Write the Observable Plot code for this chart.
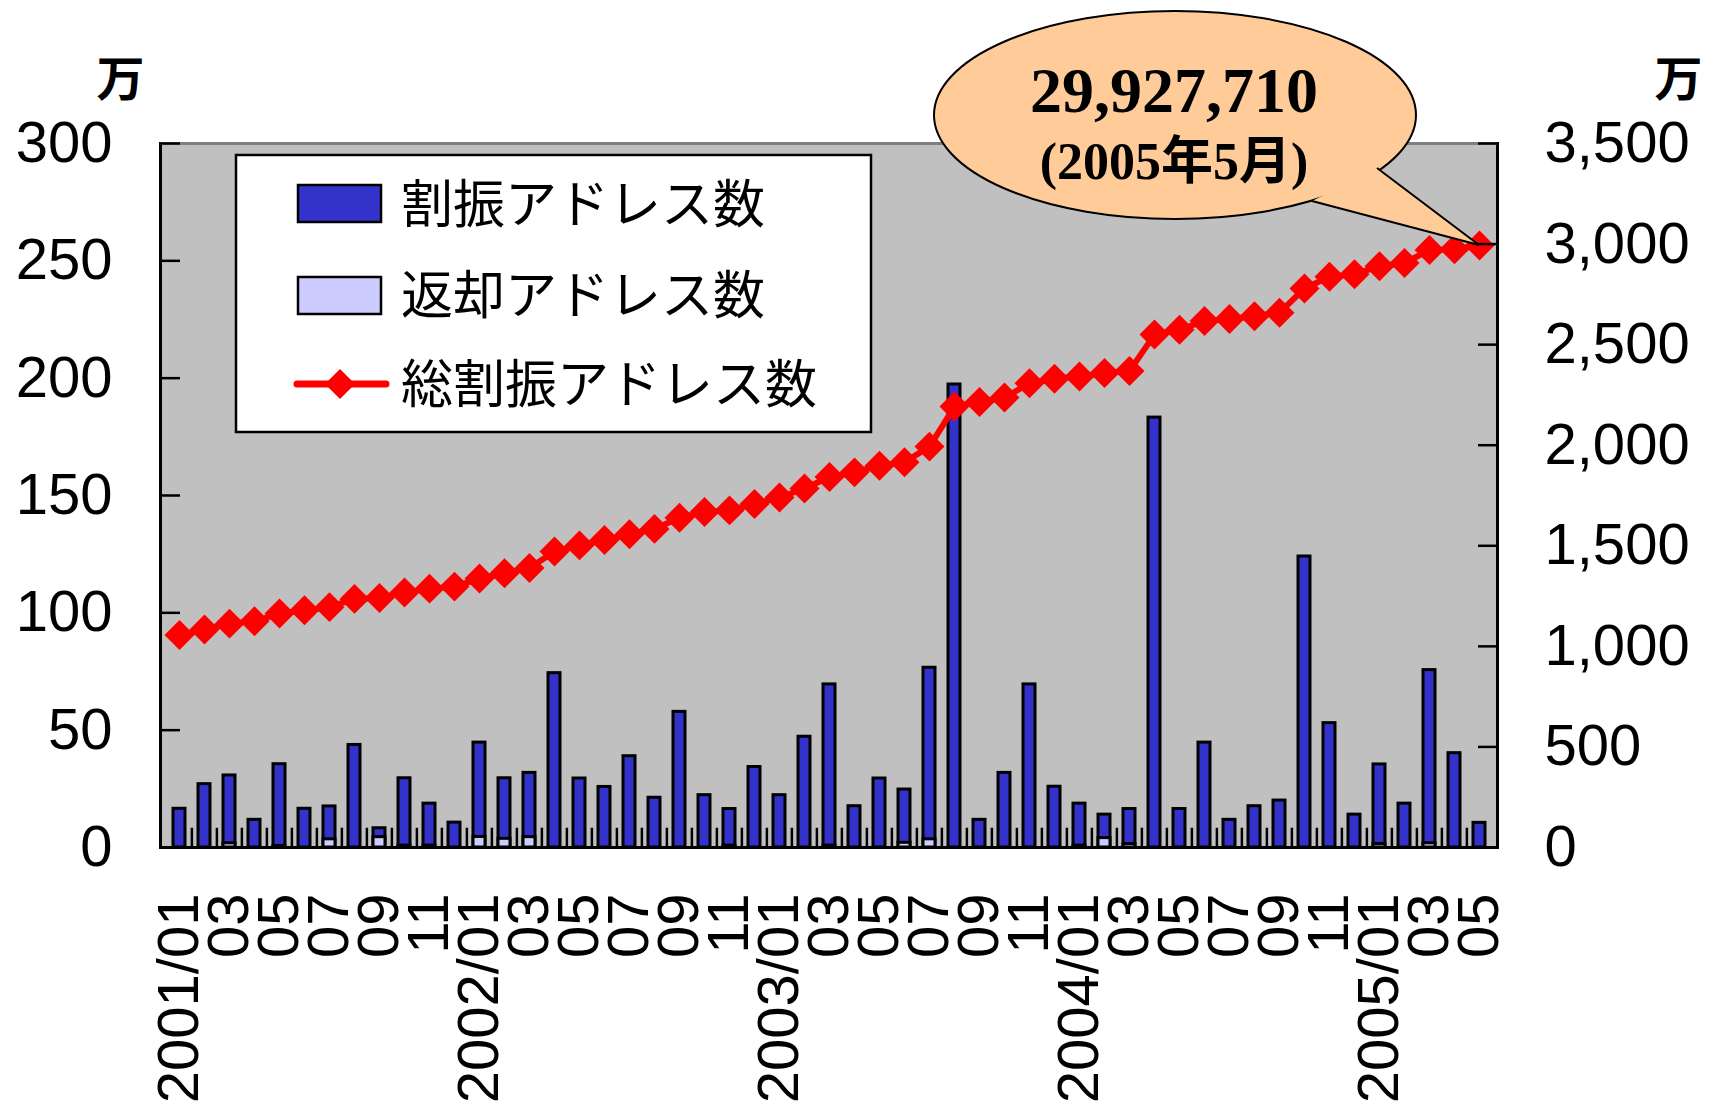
<!DOCTYPE html>
<html><head><meta charset="utf-8">
<script src="https://cdn.jsdelivr.net/npm/d3@7"></script>
<script src="https://cdn.jsdelivr.net/npm/@observablehq/plot@0.6"></script>
<style>
body{margin:0;background:#fff;}
#chart{position:relative;width:1713px;height:1111px;}
</style></head><body><div id="chart"></div>
<script>
// ---- data (values in 万 addresses) ----
const months = [
  "2001/01","2001/02","2001/03","2001/04","2001/05","2001/06","2001/07","2001/08","2001/09","2001/10","2001/11","2001/12",
  "2002/01","2002/02","2002/03","2002/04","2002/05","2002/06","2002/07","2002/08","2002/09","2002/10","2002/11","2002/12",
  "2003/01","2003/02","2003/03","2003/04","2003/05","2003/06","2003/07","2003/08","2003/09","2003/10","2003/11","2003/12",
  "2004/01","2004/02","2004/03","2004/04","2004/05","2004/06","2004/07","2004/08","2004/09","2004/10","2004/11","2004/12",
  "2005/01","2005/02","2005/03","2005/04","2005/05"
];
const allocated = [
  16.5, 27, 30.7, 11.8, 35.5, 16.5, 17.5, 43.7, 8.2, 29.5, 18.7, 10.6,
  44.7, 29.5, 31.8, 74.3, 29.4, 25.8, 38.9, 21.2, 57.8, 22.3, 16.4, 34.3,
  22.3, 47.2, 69.5, 17.6, 29.4, 24.7, 76.6, 197.3, 11.8, 31.8, 69.5, 25.9,
  18.7, 14, 16.4, 183.2, 16.4, 44.7, 11.8, 17.6, 20, 124, 53, 14,
  35.4, 18.7, 75.6, 40.2, 10.5
];
const returned = [
  0, 0, 1.8, 0, 0.6, 0, 3.5, 0, 4.4, 0.8, 0.8, 0,
  4.5, 3.7, 4.4, 0, 0, 0, 0, 0, 0, 0, 0.8, 0,
  0, 0, 0.8, 0, 0, 2, 3.5, 0, 0, 0, 0, 0,
  0.8, 4, 1.5, 0, 0, 0, 0, 0, 0, 0, 0, 0,
  1.5, 0, 1.8, 0, 0
];
const total = [
  1056, 1084, 1113, 1125, 1163, 1180, 1195, 1236, 1240, 1268, 1287, 1297,
  1337, 1363, 1390, 1472, 1502, 1529, 1557, 1584, 1639, 1668, 1676, 1708,
  1740, 1785, 1842, 1865, 1898, 1915, 1993, 2192, 2215, 2237, 2308, 2330,
  2342, 2359, 2369, 2550, 2574, 2618, 2628, 2641, 2659, 2779, 2838, 2850,
  2890, 2906, 2971, 2974, 2992.771
];
const leftTicks = [0, 50, 100, 150, 200, 250, 300];
const rightTicks = [0, 500, 1000, 1500, 2000, 2500, 3000, 3500];
const legendLabels = ["割振アドレス数", "返却アドレス数", "総割振アドレス数"];
const calloutLines = ["29,927,710", "(2005年5月)"];
const unitLabel = "万";

// ---- layout / styles ----
const W = 1713, H = 1111, mL = 160, mR = 216, mT = 143, mB = 264;
const RATIO = 300 / 3500; // right axis -> left axis units
const step = (W - mL - mR) / months.length;
const sans = "Arial, 'Liberation Sans', sans-serif";
const jp = "'Noto Sans CJK JP', sans-serif";
const blue = "#3333cc", lilac = "#ccccff", red = "#ff0000";

const data = months.map((m, i) => ({month: m, allocated: allocated[i], returned: returned[i], total: total[i]}));

const xTickFormat = m => {
  const [yy, mm] = m.split("/");
  if (+mm % 2 === 0) return "";
  return mm === "01" ? m : mm;
};

const plot = Plot.plot({
  width: W, height: H,
  marginLeft: mL, marginRight: mR, marginTop: mT, marginBottom: mB,
  style: {fontFamily: sans, fontSize: "58px", color: "#000", background: "transparent", overflow: "visible"},
  x: {type: "band", domain: months, paddingInner: 0.53, paddingOuter: 0.265, axis: null, label: null},
  y: {domain: [0, 300], axis: null, label: null},
  marks: [
    Plot.frame({fill: "#c0c0c0", stroke: "#000", strokeWidth: 3}),
    Plot.ruleY([300], {stroke: "#808080", strokeWidth: 3}),
    Plot.ruleX(months.slice(1), {x: d => d, y1: 0, y2: 8.2, stroke: "#000", strokeWidth: 2.5, dx: -step / 2}),
    Plot.barY(data, {x: "month", y1: 0, y2: "allocated", fill: blue, stroke: "#000", strokeWidth: 3}),
    Plot.barY(data.filter(d => d.returned > 0), {x: "month", y1: 0, y2: "returned", fill: lilac, stroke: "#000", strokeWidth: 3}),
    Plot.ruleY([0], {stroke: "#000", strokeWidth: 3}),
    Plot.line(data, {x: "month", y: d => d.total * RATIO, stroke: red, strokeWidth: 6}),
    Plot.dot(data, {x: "month", y: d => d.total * RATIO, symbol: "diamond2", r: 13.5, fill: red, stroke: "none"}),
    Plot.axisY(leftTicks, {anchor: "left", tickSize: 20, dx: 20, tickFormat: () => "", strokeWidth: 2.5, label: null}),
    Plot.axisY(leftTicks, {anchor: "left", tickSize: 0, tickPadding: 48, tickFormat: d => String(d), label: null}),
    Plot.axisY(rightTicks.map(v => v * RATIO), {anchor: "right", tickSize: 20, dx: -20, tickFormat: () => "", strokeWidth: 2.5, label: null}),
    Plot.axisY(rightTicks.map(v => v * RATIO), {anchor: "right", tickSize: 0, tickPadding: 47, tickFormat: v => d3.format(",")(Math.round(v / RATIO)), label: null}),
    Plot.axisX({anchor: "bottom", tickSize: 0, tickPadding: 46, tickRotate: -90, tickFormat: xTickFormat, label: null}),
    Plot.text([unitLabel], {frameAnchor: "top-left", dx: -40, dy: -63, textAnchor: "middle", lineAnchor: "middle", fontFamily: jp, fontWeight: "bold", fontSize: 48}),
    Plot.text([unitLabel], {frameAnchor: "top-right", dx: 181, dy: -63, textAnchor: "middle", lineAnchor: "middle", fontFamily: jp, fontWeight: "bold", fontSize: 48})
  ]
});
document.getElementById("chart").appendChild(plot);

// ---- legend (inside plot area, top-left) ----
const svg = d3.select(plot);
const lg = svg.append("g").attr("class", "legend").attr("text-anchor", "start");
lg.append("rect").attr("x", 236).attr("y", 155).attr("width", 635).attr("height", 277)
  .attr("fill", "#fff").attr("stroke", "#000").attr("stroke-width", 2.5);
const rows = [204, 295, 384];
lg.append("rect").attr("x", 298).attr("y", 185).attr("width", 83).attr("height", 37)
  .attr("fill", blue).attr("stroke", "#000").attr("stroke-width", 2.5);
lg.append("rect").attr("x", 298).attr("y", 277).attr("width", 83).attr("height", 37)
  .attr("fill", lilac).attr("stroke", "#000").attr("stroke-width", 2.5);
lg.append("line").attr("x1", 297).attr("x2", 386).attr("y1", rows[2]).attr("y2", rows[2])
  .attr("stroke", red).attr("stroke-width", 7).attr("stroke-linecap", "round");
lg.append("path").attr("d", d3.symbol(d3.symbolDiamond2, Math.PI * 13.5 * 13.5)())
  .attr("transform", `translate(340,${rows[2]})`).attr("fill", red);
legendLabels.forEach((t, i) => {
  lg.append("text").attr("x", 401).attr("y", rows[i]).attr("dy", "0.36em")
    .attr("text-anchor", "start")
    .attr("font-family", jp).attr("font-size", 52).attr("fill", "#000").text(t);
});

// ---- callout pointing at the last point ----
const xs = plot.scale("x"), ys = plot.scale("y");
const last = data[data.length - 1];
const tipX = xs.apply(last.month) + xs.bandwidth / 2;
const tipY = ys.apply(last.total * RATIO);
const cg = svg.append("g").attr("class", "callout");
cg.append("ellipse").attr("cx", 1175).attr("cy", 115).attr("rx", 241).attr("ry", 104)
  .attr("fill", "#ffcc99").attr("stroke", "#000").attr("stroke-width", 2);
cg.append("path").attr("d", `M1377,168 L${tipX},${tipY} L1312,201`)
  .attr("fill", "#ffcc99").attr("stroke", "#000").attr("stroke-width", 2);
cg.append("text").attr("x", 1174).attr("y", 112).attr("text-anchor", "middle")
  .attr("font-family", "'Liberation Serif', 'Times New Roman', serif").attr("font-weight", "bold")
  .attr("font-size", 64).attr("fill", "#000").text(calloutLines[0]);
cg.append("text").attr("x", 1174).attr("y", 179).attr("text-anchor", "middle")
  .attr("font-family", "'Liberation Serif', 'Times New Roman', 'Noto Sans CJK JP', serif").attr("font-weight", "bold")
  .attr("font-size", 52).attr("fill", "#000").text(calloutLines[1]);
</script></body></html>
